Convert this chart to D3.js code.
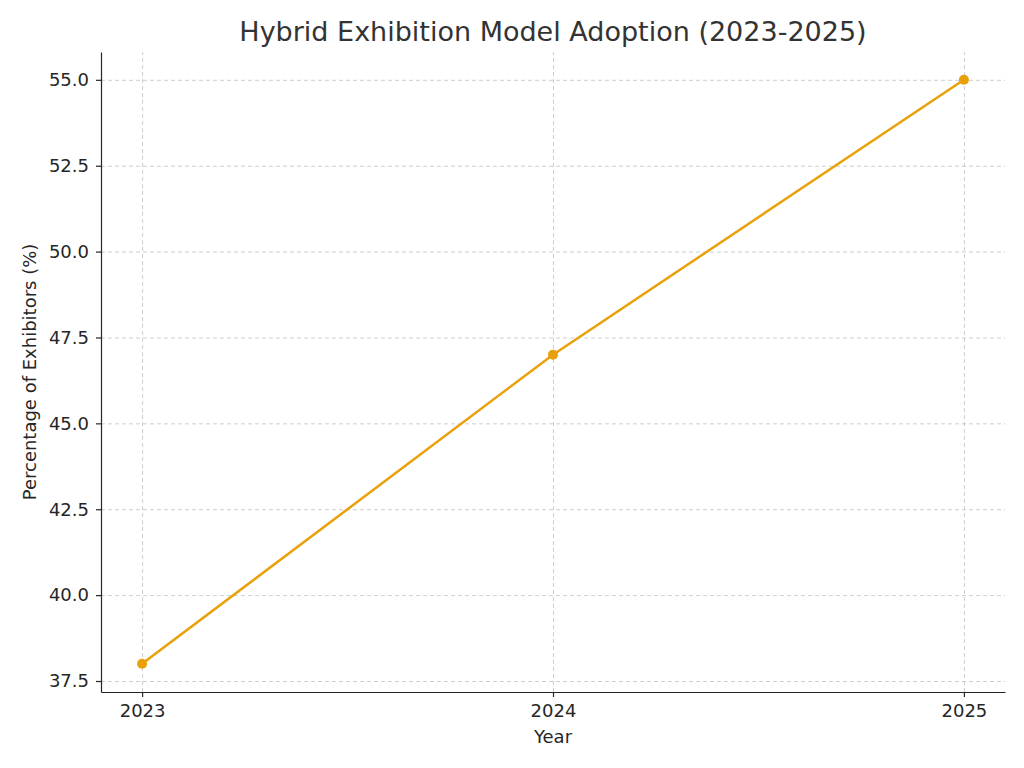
<!DOCTYPE html>
<html><head><meta charset="utf-8">
<script src="https://cdn.jsdelivr.net/npm/d3@7"></script>
<style>
body{margin:0;background:#fff;font-family:"DejaVu Sans",sans-serif;}
.grid line{stroke:#c8c8c8;stroke-dasharray:4,3;stroke-width:0.9;}
.grid path{display:none;}
</style></head><body>
<script>
const years = [2023, 2024, 2025];
const percentages = [38, 47, 55];
const yTicks = [37.5, 40, 42.5, 45, 47.5, 50, 52.5, 55];

const W = 1024, H = 768;
const m = {left: 101, right: 19, top: 52, bottom: 76};

const svg = d3.select('body').append('svg')
    .attr('width', W).attr('height', H);

const x = d3.scaleLinear()
    .domain([2023 - 0.1, 2025 + 0.1])
    .range([m.left, W - m.right]);
const y = d3.scaleLinear()
    .domain([37.18, 55.81])
    .range([H - m.bottom, m.top]);

// grid
svg.append('g').attr('class', 'grid')
    .attr('transform', `translate(0,${H - m.bottom})`)
    .call(d3.axisBottom(x).tickValues(years).tickSize(-(H - m.top - m.bottom)).tickFormat(''));
svg.append('g').attr('class', 'grid')
    .attr('transform', `translate(${m.left},0)`)
    .call(d3.axisLeft(y).tickValues(yTicks).tickSize(-(W - m.left - m.right)).tickFormat(''));

// axes
const xa = svg.append('g')
    .attr('transform', `translate(0,${H - m.bottom})`)
    .call(d3.axisBottom(x).tickValues(years).tickFormat(d3.format('d')).tickSize(5).tickPadding(7).tickSizeOuter(0));
const ya = svg.append('g')
    .attr('transform', `translate(${m.left},0)`)
    .call(d3.axisLeft(y).tickValues(yTicks).tickFormat(d3.format('.1f')).tickSize(5).tickPadding(7).tickSizeOuter(0));
[xa, ya].forEach(a => {
    a.attr('font-size', 18).attr('font-family', '"DejaVu Sans", sans-serif');
    a.selectAll('text').attr('fill', '#262626');
    a.selectAll('path, line').attr('stroke', '#262626').attr('stroke-width', 1.2);
});

// line + points
const pts = years.map((d, i) => ({year: d, value: percentages[i]}));
svg.append('path').datum(pts)
    .attr('fill', 'none').attr('stroke', '#E8A10A').attr('stroke-width', 2.5)
    .attr('d', d3.line().x(d => x(d.year)).y(d => y(d.value)));
svg.selectAll('circle').data(pts).enter().append('circle')
    .attr('cx', d => x(d.year)).attr('cy', d => y(d.value)).attr('r', 5)
    .attr('fill', '#E8A10A');

// labels
svg.append('text').attr('x', (m.left + W - m.right) / 2).attr('y', 41)
    .attr('text-anchor', 'middle').attr('font-size', 27).attr('fill', '#333')
    .text('Hybrid Exhibition Model Adoption (2023-2025)');
svg.append('text').attr('x', (m.left + W - m.right) / 2).attr('y', 743)
    .attr('text-anchor', 'middle').attr('font-size', 18).attr('fill', '#262626')
    .text('Year');
svg.append('text').attr('transform', `translate(36,${(m.top + H - m.bottom) / 2}) rotate(-90)`)
    .attr('text-anchor', 'middle').attr('font-size', 18).attr('fill', '#262626')
    .text('Percentage of Exhibitors (%)');
</script>
</body></html>
